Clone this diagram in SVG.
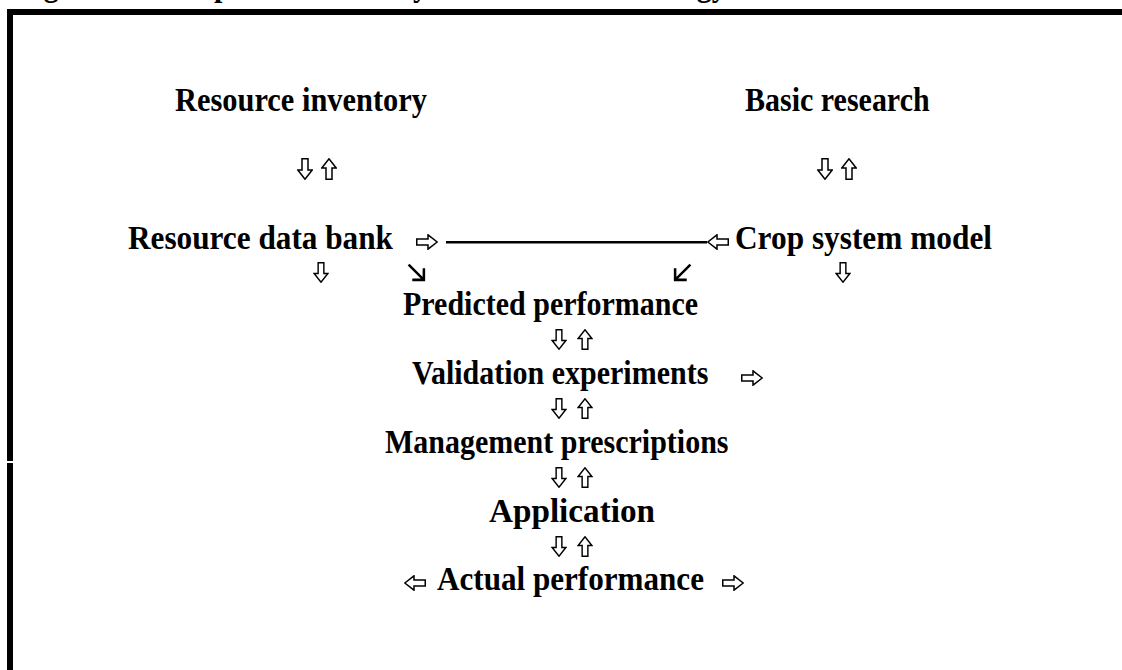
<svg xmlns="http://www.w3.org/2000/svg" xmlns:xlink="http://www.w3.org/1999/xlink" width="1122" height="670" viewBox="0 0 1122 670">
  <style>
    .t { font-family: "Liberation Serif", "Times New Roman", serif; font-weight: bold; font-size: 30px; fill: #000; }
    .ol { fill: #fff; stroke: #000; stroke-width: 1.5; stroke-linejoin: miter; }
    .ln { fill: none; stroke: #000; stroke-width: 2.4; stroke-linecap: butt; }
  </style>
  <defs>
    <!-- outlined block arrows -->
    <symbol id="dn" viewBox="0 0 16 22"><path class="ol" d="M5 0.75 H11 V12 H15.2 L8 21.2 L0.8 12 H5 Z"/></symbol>
    <symbol id="up" viewBox="0 0 16 22"><path class="ol" d="M5 21.25 H11 V10 H15.2 L8 0.8 L0.8 10 H5 Z"/></symbol>
    <symbol id="rt" viewBox="0 0 22 16"><path class="ol" d="M0.75 5 H12 V0.8 L21.2 8 L12 15.2 V11 H0.75 Z"/></symbol>
    <symbol id="lt" viewBox="0 0 22 16"><path class="ol" d="M21.25 5 H10 V0.8 L0.8 8 L10 15.2 V11 H21.25 Z"/></symbol>
    <!-- thin diagonal arrows -->
    <symbol id="se" viewBox="0 0 18 18"><path class="ln" d="M1.5 1.5 L16 16 M16 5 V16 H5"/></symbol>
    <symbol id="sw" viewBox="0 0 18 18"><path class="ln" d="M16.5 1.5 L2 16 M2 5 V16 H13"/></symbol>
  </defs>

  <rect width="1122" height="670" fill="#fff"/>

  <!-- caption, cut by the top edge of the page -->
  <g id="caption" transform="scale(1 1.12)">
    <text class="t" x="17" y="-3.6">Fig. 3. The components of the systems research strategy for IBSNAT.</text>
  </g>

  <!-- frame -->
  <g id="frame" fill="#000">
    <rect x="7" y="9" width="1115" height="6"/>
    <rect x="7" y="9" width="6" height="452"/>
    <rect x="7" y="463" width="6" height="207"/>
  </g>

  <!-- labels (type is slightly taller than it is wide) -->
  <g transform="scale(1 1.12)">
    <g id="resource-inventory"><text class="t" x="175" y="99.1" textLength="252" lengthAdjust="spacingAndGlyphs">Resource inventory</text></g>
    <g id="basic-research"><text class="t" x="745" y="99.1">Basic research</text></g>
    <g id="resource-data-bank"><text class="t" x="128" y="222.3" textLength="265" lengthAdjust="spacingAndGlyphs">Resource data bank</text></g>
    <g id="crop-system-model"><text class="t" x="735" y="222.3" textLength="257" lengthAdjust="spacingAndGlyphs">Crop system model</text></g>
    <g id="predicted-performance"><text class="t" x="403" y="281.25">Predicted performance</text></g>
    <g id="validation-experiments"><text class="t" x="412" y="342.9">Validation experiments</text></g>
    <g id="management-prescriptions"><text class="t" x="385" y="404.5">Management prescriptions</text></g>
    <g id="application"><text class="t" x="489" y="466.1" textLength="166" lengthAdjust="spacingAndGlyphs">Application</text></g>
    <g id="actual-performance"><text class="t" x="437" y="526.8" textLength="267" lengthAdjust="spacingAndGlyphs">Actual performance</text></g>
  </g>

  <!-- connectors -->
  <g id="connectors">
    <!-- inventory <-> data bank, basic research <-> model -->
    <use xlink:href="#dn" x="297" y="158" width="16" height="22"/>
    <use xlink:href="#up" x="321" y="158" width="16" height="22"/>
    <use xlink:href="#dn" x="817" y="158" width="16" height="22"/>
    <use xlink:href="#up" x="841" y="158" width="16" height="22"/>

    <!-- data bank -> ——— <- model -->
    <use xlink:href="#rt" x="416" y="234" width="22" height="16"/>
    <rect x="446" y="241" width="261" height="2.5" fill="#000"/>
    <use xlink:href="#lt" x="707" y="234" width="22" height="16"/>

    <!-- row below data bank / model -->
    <use xlink:href="#dn" x="313" y="262" width="16" height="21"/>
    <use xlink:href="#se" x="407" y="263" width="19" height="19"/>
    <use xlink:href="#sw" x="673" y="263" width="19" height="19"/>
    <use xlink:href="#dn" x="835" y="262" width="16" height="21"/>

    <!-- central chain -->
    <use xlink:href="#dn" x="551" y="329" width="16" height="21"/>
    <use xlink:href="#up" x="577" y="329" width="16" height="21"/>
    <use xlink:href="#rt" x="741" y="370" width="22" height="16"/>
    <use xlink:href="#dn" x="551" y="398" width="16" height="21"/>
    <use xlink:href="#up" x="577" y="398" width="16" height="21"/>
    <use xlink:href="#dn" x="551" y="467" width="16" height="21"/>
    <use xlink:href="#up" x="577" y="467" width="16" height="21"/>
    <use xlink:href="#dn" x="551" y="536" width="16" height="21"/>
    <use xlink:href="#up" x="577" y="536" width="16" height="21"/>

    <!-- outputs of actual performance -->
    <use xlink:href="#lt" x="404" y="575" width="22" height="16"/>
    <use xlink:href="#rt" x="722" y="575" width="22" height="16"/>
  </g>
</svg>
